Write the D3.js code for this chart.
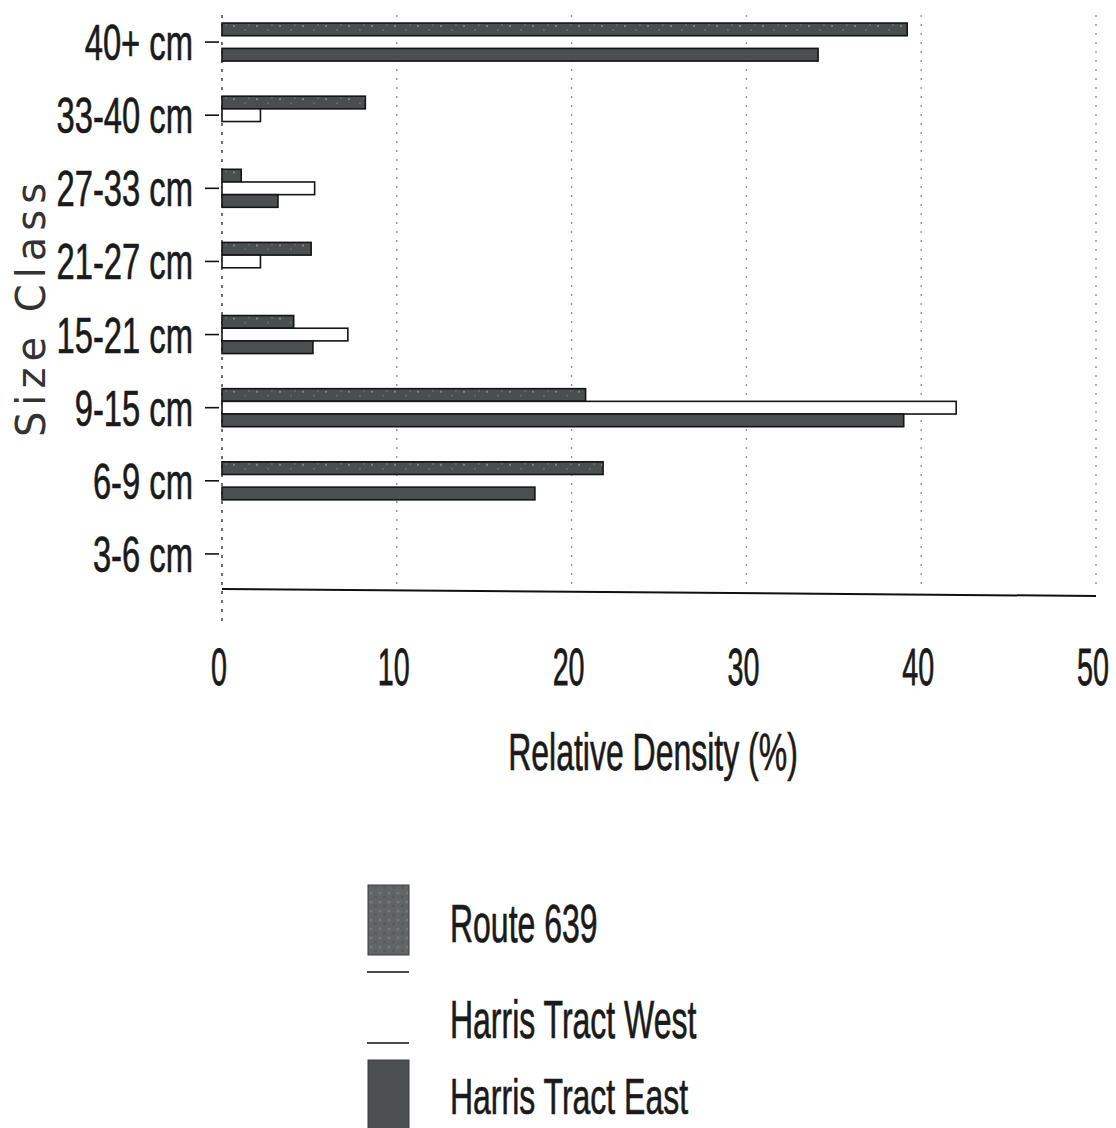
<!DOCTYPE html>
<html>
<head>
<meta charset="utf-8">
<script src="https://cdn.jsdelivr.net/npm/d3@7/dist/d3.min.js"></script>
<style>
  body { margin: 0; background: #fff; }
  svg { display: block; }
  text { font-family: "Liberation Sans", Arial, sans-serif; fill: #1a1a1a; stroke: #1a1a1a; stroke-width: 0.5px; }
</style>
</head>
<body>
<div id="chart"></div>
<script>
// size classes, top to bottom
var sizeClasses = ["40+ cm", "33-40 cm", "27-33 cm", "21-27 cm", "15-21 cm", "9-15 cm", "6-9 cm", "3-6 cm"]
var seriesNames = ["Route 639", "Harris Tract West", "Harris Tract East"]
// relative density (%)
var route639   = [39.2, 8.2, 1.1, 5.1, 4.1, 20.8, 21.8, 0]
var harrisWest = [0, 2.2, 5.3, 2.2, 7.2, 42.0, 0, 0]
var harrisEast = [34.1, 0, 3.2, 0, 5.2, 39.0, 17.9, 0]
var xTicks = [0, 10, 20, 30, 40, 50]

var width = 1116, height = 1128

var svg = d3.select("#chart").append("svg")
    .attr("width", width)
    .attr("height", height)

// speckled grey fill like the scanned Route 639 bars
var defs = svg.append("defs")
var pat = defs.append("pattern")
    .attr("id", "speckle")
    .attr("patternUnits", "userSpaceOnUse")
    .attr("width", 23).attr("height", 11)
pat.append("rect").attr("width", 23).attr("height", 11).attr("fill", "#4a4e4f")
pat.append("circle").attr("cx", 4).attr("cy", 3).attr("r", 0.9).attr("fill", "#9a9d9e")
pat.append("circle").attr("cx", 15).attr("cy", 7).attr("r", 0.8).attr("fill", "#868a8b")
pat.append("circle").attr("cx", 19).attr("cy", 2).attr("r", 0.6).attr("fill", "#b0b3b4")

var pat2 = defs.append("pattern")
    .attr("id", "speckleLight")
    .attr("patternUnits", "userSpaceOnUse")
    .attr("width", 9).attr("height", 9)
pat2.append("rect").attr("width", 9).attr("height", 9).attr("fill", "#616566")
pat2.append("circle").attr("cx", 2).attr("cy", 2).attr("r", 1.6).attr("fill", "#73777a")
pat2.append("circle").attr("cx", 6.5).attr("cy", 6).attr("r", 1.4).attr("fill", "#55595a")

var x = d3.scaleLinear().domain([0, 50]).range([222, 1096])
var y = d3.scaleBand().domain(sizeClasses).range([5.5, 590.5])
    .paddingInner(0.48).paddingOuter(0.24)
var ySub = d3.scaleBand().domain(seriesNames).range([0, y.bandwidth()])

var fills = {
    "Route 639": "url(#speckle)",
    "Harris Tract West": "#ffffff",
    "Harris Tract East": "#4b4f50"
}

// narrow, tall lettering of the scan
function label(g, px, py, str, anchor, sx, sy, size) {
    return g.append("text")
        .attr("transform", "translate(" + px + "," + py + ") scale(" + sx + "," + sy + ")")
        .attr("text-anchor", anchor)
        .style("font-size", size + "px")
        .text(str)
}

// dotted grid lines
svg.append("g").selectAll("line")
    .data(xTicks.slice(1))
    .join("line")
    .attr("x1", d => x(d)).attr("x2", d => x(d))
    .attr("y1", 15).attr("y2", 590)
    .attr("stroke", "#6d6d6d")
    .attr("stroke-width", 1.4)
    .attr("stroke-dasharray", "2,7")
    .attr("opacity", 0.7)

// dotted value axis at 0
svg.append("line")
    .attr("x1", x(0)).attr("x2", x(0))
    .attr("y1", 15).attr("y2", 625)
    .attr("stroke", "#333")
    .attr("stroke-width", 1.4)
    .attr("stroke-dasharray", "3,6")

// bottom line
svg.append("line")
    .attr("x1", x(0)).attr("x2", x(50))
    .attr("y1", 589).attr("y2", 596)
    .attr("stroke", "#111")
    .attr("stroke-width", 2)

var rows = sizeClasses.map(function(c, i) {
    return { cls: c, vals: [
        { name: seriesNames[0], v: route639[i] },
        { name: seriesNames[1], v: harrisWest[i] },
        { name: seriesNames[2], v: harrisEast[i] }
    ] }
})

var groups = svg.append("g").selectAll("g")
    .data(rows)
    .join("g")
    .attr("transform", d => "translate(0," + y(d.cls) + ")")

groups.selectAll("rect")
    .data(d => d.vals.filter(e => e.v > 0))
    .join("rect")
    .attr("x", x(0))
    .attr("y", d => ySub(d.name))
    .attr("width", d => x(d.v) - x(0))
    .attr("height", ySub.bandwidth())
    .attr("fill", d => fills[d.name])
    .attr("stroke", "#151515")
    .attr("stroke-width", 1.6)

// category axis: ticks and labels
var yAxis = svg.append("g")
yAxis.selectAll("line")
    .data(sizeClasses)
    .join("line")
    .attr("x1", 205).attr("x2", 219)
    .attr("y1", d => y(d) + y.bandwidth() / 2)
    .attr("y2", d => y(d) + y.bandwidth() / 2)
    .attr("stroke", "#111")
    .attr("stroke-width", 1.6)
sizeClasses.forEach(function(c) {
    label(yAxis, 193, y(c) + y.bandwidth() / 2 + 18, c, "end", 0.84, 1.3, 39)
})

// value axis labels
var xAxis = svg.append("g")
xTicks.forEach(function(t) {
    label(xAxis, x(t) - 3, 685, t, "middle", 0.82, 1.5, 35)
})
label(xAxis, 653, 770, "Relative Density (%)", "middle", 0.82, 1.32, 39)

// y title
svg.append("text")
    .attr("transform", "translate(45,307) rotate(-90)")
    .attr("text-anchor", "middle")
    .style("font-family", "'DejaVu Sans', sans-serif")
    .style("font-size", "40px")
    .style("letter-spacing", "6px")
    .style("fill", "#333")
    .style("stroke", "none")
    .text("Size Class")

// legend
var legend = svg.append("g")
var legendRows = [
    { name: seriesNames[0], top: 885, base: 942 },
    { name: seriesNames[1], top: 972, base: 1038 },
    { name: seriesNames[2], top: 1060, base: 1114 }
]
legendRows.forEach(function(r) {
    if (r.name === "Harris Tract West") {
        legend.append("line").attr("x1", 367).attr("x2", 409)
            .attr("y1", r.top).attr("y2", r.top).attr("stroke", "#111").attr("stroke-width", 1.6)
        legend.append("line").attr("x1", 367).attr("x2", 409)
            .attr("y1", r.top + 71).attr("y2", r.top + 71).attr("stroke", "#111").attr("stroke-width", 1.6)
    } else {
        legend.append("rect")
            .attr("x", 368).attr("y", r.top)
            .attr("width", 41).attr("height", 70)
            .attr("fill", r.name === "Route 639" ? "url(#speckleLight)" : fills[r.name])
            .attr("stroke", "#3a3d3e").attr("stroke-width", 1)
    }
    label(legend, 450, r.base, r.name, "start", 0.82, r.name === "Harris Tract East" ? 1.28 : 1.38, 39)
})
</script>
</body>
</html>
